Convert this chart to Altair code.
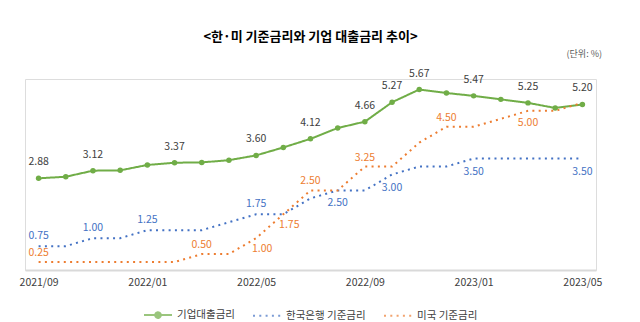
import altair as alt
import pandas as pd

months = ["2021/09", "2021/10", "2021/11", "2021/12", "2022/01", "2022/02", "2022/03",
          "2022/04", "2022/05", "2022/06", "2022/07", "2022/08", "2022/09", "2022/10",
          "2022/11", "2022/12", "2023/01", "2023/02", "2023/03", "2023/04", "2023/05"]
corp_loan = [2.88, 2.93, 3.12, 3.13, 3.30, 3.37, 3.38, 3.45, 3.60, 3.85, 4.12,
             4.46, 4.66, 5.27, 5.67, 5.56, 5.47, 5.36, 5.25, 5.09, 5.20]
kr_base = [0.75, 0.75, 1.00, 1.00, 1.25, 1.25, 1.25, 1.50, 1.75, 1.75, 2.25,
           2.50, 2.50, 3.00, 3.25, 3.25, 3.50, 3.50, 3.50, 3.50, 3.50]
us_base = [0.25, 0.25, 0.25, 0.25, 0.25, 0.25, 0.50, 0.50, 1.00, 1.75, 2.50,
           2.50, 3.25, 3.25, 4.00, 4.50, 4.50, 4.75, 5.00, 5.00, 5.25]
series_names = ["기업대출금리", "한국은행 기준금리", "미국 기준금리"]
series_colors = ["#70AD47", "#4472C4", "#ED7D31"]
axis_ticks = ["2021/09", "2022/01", "2022/05", "2022/09", "2023/01", "2023/05"]

# which points carry a value label, and where
label_idx = {
    ("기업대출금리", "above"): [0, 2, 5, 8, 10, 12, 13, 14, 16, 18, 20],
    ("한국은행 기준금리", "above"): [0, 2, 4, 8],
    ("한국은행 기준금리", "below"): [11, 13, 16, 20],
    ("미국 기준금리", "above"): [0, 6, 10, 12, 15],
    ("미국 기준금리", "below"): [18],
    ("미국 기준금리", "belowright"): [8, 9],
}

values = {series_names[0]: corp_loan, series_names[1]: kr_base, series_names[2]: us_base}
rows = []
for s in series_names:
    for m, v in zip(months, values[s]):
        rows.append({"month": m, "series": s, "value": v})
df = pd.DataFrame(rows)

lab_rows = []
for (s, place), idxs in label_idx.items():
    for i in idxs:
        lab_rows.append({"month": months[i], "series": s, "value": values[s][i],
                         "label": f"{values[s][i]:.2f}", "place": place})
labels = pd.DataFrame(lab_rows)

FONT = "Noto Sans CJK KR"

x_enc = alt.X("month:O", scale=alt.Scale(type="point", domain=months, padding=0.5),
              axis=alt.Axis(values=axis_ticks, title=None, labelAngle=0, ticks=False,
                            grid=False, domainColor="#D9D9D9", domainWidth=2,
                            labelColor="#404040", labelFontSize=10.5, labelFont=FONT,
                            labelPadding=7))
y_enc = alt.Y("value:Q", scale=alt.Scale(domain=[0, 6], nice=False, zero=True), axis=None)

green_path = "M-1,0H1M-0.2,0A0.2,0.2,0,1,1,0.2,0A0.2,0.2,0,1,1,-0.2,0Z"
plain_path = "M-1,0H1"

legend_def = alt.Legend(title=None, orient="none", direction="horizontal",
                        legendX=118, legendY=221, symbolSize=784,
                        symbolStrokeWidth=2, labelFontSize=10.5,
                        labelFont=FONT, labelColor="#404040",
                        labelOffset=4, columnPadding=14)
color_scale = alt.Scale(domain=series_names, range=series_colors)

lines = alt.Chart(df).mark_line(strokeWidth=2, clip=False).encode(
    x=x_enc, y=y_enc,
    color=alt.Color("series:N", scale=color_scale, legend=legend_def),
    strokeDash=alt.StrokeDash("series:N", scale=alt.Scale(domain=series_names,
                              range=[[1, 0], [2, 4.3], [2, 4.3]]), legend=legend_def),
)

points = alt.Chart(df).transform_filter(
    alt.datum.series == series_names[0]
).mark_circle(size=30, opacity=1).encode(
    x=x_enc, y=y_enc,
    color=alt.Color("series:N", scale=color_scale, legend=None),
)

# empty layer used only to give the legend its line-with-marker symbols
legend_shapes = alt.Chart(df).transform_filter("false").mark_point(filled=True).encode(
    x=x_enc, y=y_enc,
    color=alt.Color("series:N", scale=color_scale, legend=legend_def),
    shape=alt.Shape("series:N", scale=alt.Scale(domain=series_names,
                    range=[green_path, plain_path, plain_path]), legend=legend_def),
)

text_layers = []
dy_map = {
    ("기업대출금리", "above"): -16,
    ("한국은행 기준금리", "above"): -10,
    ("한국은행 기준금리", "below"): 13,
    ("미국 기준금리", "above"): -9,
    ("미국 기준금리", "below"): 12,
    ("미국 기준금리", "belowright"): 11,
}
label_colors = {"기업대출금리": "#404040", "한국은행 기준금리": "#4472C4",
                "미국 기준금리": "#ED7D31"}
for (s, place), dy in dy_map.items():
    dx = 6 if place == "belowright" else 0
    t = alt.Chart(labels).transform_filter(
        (alt.datum.series == s) & (alt.datum.place == place)
    ).mark_text(fontSize=10.5, font=FONT, color=label_colors[s], dx=dx, dy=dy,
                baseline="middle", align="center").encode(
        x=x_enc, y=y_enc, text="label:N")
    text_layers.append(t)

unit = alt.Chart(pd.DataFrame({"u": ["(단위: %)"]})).mark_text(
    fontSize=9, font=FONT, color="#595959", align="right", baseline="middle"
).encode(x=alt.value(577), y=alt.value(-25), text="u:N")

chart = alt.layer(lines, points, legend_shapes, *text_layers, unit).properties(
    width=571, height=191,
    padding={"left": 25, "top": 79, "right": 44, "bottom": 52},
    autosize=alt.AutoSizeParams(type="none"),
    title=alt.TitleParams("<한·미 기준금리와 기업 대출금리 추이>", anchor="middle",
                          fontSize=13, font=FONT, fontWeight="bold", color="#000000",
                          offset=6, frame="group"),
).configure_view(stroke=None).configure(background="white")

chart.save("out.html", embed_options={"renderer": "svg", "actions": False})
